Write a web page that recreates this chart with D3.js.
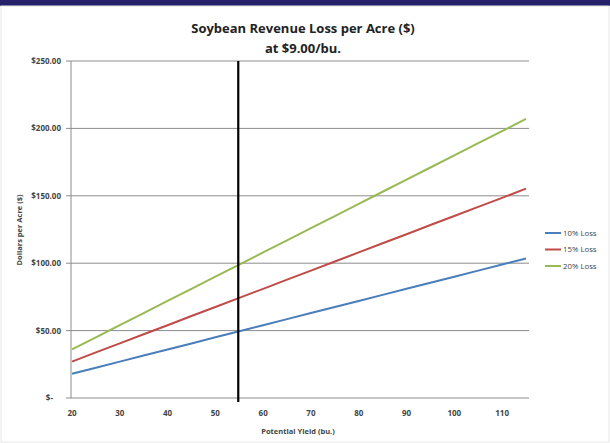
<!DOCTYPE html>
<html>
<head>
<meta charset="utf-8">
<script src="https://cdn.jsdelivr.net/npm/d3@7"></script>
<style>
  body { margin: 0; background: #fff; }
  svg { display: block; }
  text { font-family: "Open Sans", "Liberation Sans", sans-serif; }
</style>
</head>
<body>
<div id="chart"></div>
<script>
// 数据：产量与损失
const yields = [20, 25, 30, 35, 40, 45, 50, 55, 60, 65, 70, 75, 80, 85, 90, 95, 100, 105, 110, 115];
const loss10 = [18, 22.5, 27, 31.5, 36, 40.5, 45, 49.5, 54, 58.5, 63, 67.5, 72, 76.5, 81, 85.5, 90, 94.5, 99, 103.5];
const loss15 = [27, 33.8, 40.5, 47.3, 54, 60.8, 67.5, 74.3, 81, 87.8, 94.5, 101.3, 108, 114.8, 121.5, 128.3, 135, 141.8, 148.5, 155.3];
const loss20 = [36, 45, 54, 63, 72, 81, 90, 99, 108, 117, 126, 135, 144, 153, 162, 171, 180, 189, 198, 207];
const seriesNames = ["10% Loss", "15% Loss", "20% Loss"];
const seriesColors = ["#4a7ebb", "#be4b48", "#98b954"];
const xTicks = [20, 30, 40, 50, 60, 70, 80, 90, 100, 110];
const yTicks = [0, 50, 100, 150, 200, 250];
const markerYield = 55;

const width = 610, height = 443;
const svg = d3.select("#chart").append("svg")
  .attr("width", width)
  .attr("height", height);

// 顶部深色条
svg.append("rect").attr("x", 0).attr("y", 0).attr("width", width).attr("height", 6).attr("fill", "#24206a");
svg.append("rect").attr("x", 1).attr("y", 6).attr("width", width - 2).attr("height", height - 7)
  .attr("fill", "none").attr("stroke", "#e6e6e6");

// 比例尺
const x = d3.scaleLinear().domain([20, 115]).range([72, 526]);
const y = d3.scaleLinear().domain([0, 250]).range([398, 61]);
const plotLeft = 71, plotRight = 529;

// 网格线
svg.append("g").selectAll("line")
  .data(yTicks)
  .enter().append("line")
  .attr("x1", plotLeft - 5).attr("x2", plotRight)
  .attr("y1", d => y(d)).attr("y2", d => y(d))
  .style("stroke", "#8c8c8c")
  .style("stroke-width", 1);

// y 轴
svg.append("line")
  .attr("x1", plotLeft).attr("x2", plotLeft)
  .attr("y1", y(250)).attr("y2", y(0))
  .style("stroke", "#8c8c8c");

const fmt = d => d === 0 ? "$-" : "$" + d3.format(".2f")(d);
svg.append("g").selectAll("text")
  .data(yTicks)
  .enter().append("text")
  .attr("x", d => d === 0 ? 53 : 61)
  .attr("y", d => y(d) + 3)
  .attr("text-anchor", "end")
  .style("font-size", "8px")
  .style("font-weight", "bold")
  .style("fill", "#444")
  .text(fmt);

// x 轴刻度
svg.append("g").selectAll("text")
  .data(xTicks)
  .enter().append("text")
  .attr("x", d => x(d))
  .attr("y", 416)
  .attr("text-anchor", "middle")
  .style("font-size", "8px")
  .style("font-weight", "bold")
  .style("fill", "#444")
  .text(d => d);

// 折线
const seriesData = [loss10, loss15, loss20];
const line = d3.line()
  .x((d, i) => x(yields[i]))
  .y(d => y(d));
svg.append("g").selectAll("path")
  .data(seriesData)
  .enter().append("path")
  .attr("d", line)
  .style("fill", "none")
  .style("stroke", (d, i) => seriesColors[i])
  .style("stroke-width", 2);

// 竖线（55 蒲式耳）
svg.append("line")
  .attr("x1", x(markerYield) - 1).attr("x2", x(markerYield) - 1)
  .attr("y1", y(250)).attr("y2", y(0) + 4)
  .style("stroke", "#000")
  .style("stroke-width", 2.2);

// 标题
svg.append("text")
  .attr("x", 303).attr("y", 33)
  .attr("text-anchor", "middle")
  .style("font-size", "13px")
  .style("font-weight", "bold")
  .style("fill", "#222")
  .text("Soybean Revenue Loss per Acre ($)");
svg.append("text")
  .attr("x", 303).attr("y", 53)
  .attr("text-anchor", "middle")
  .style("font-size", "13px")
  .style("font-weight", "bold")
  .style("fill", "#222")
  .text("at $9.00/bu.");

// 轴标题
svg.append("text")
  .attr("x", 298).attr("y", 434)
  .attr("text-anchor", "middle")
  .style("font-size", "7.5px")
  .style("font-weight", "bold")
  .style("fill", "#444")
  .text("Potential Yield (bu.)");
svg.append("text")
  .attr("transform", "translate(22,230) rotate(-90)")
  .attr("text-anchor", "middle")
  .style("font-size", "7.5px")
  .style("font-weight", "bold")
  .style("fill", "#444")
  .text("Dollars per Acre ($)");

// 图例
const legend = svg.append("g").selectAll("g")
  .data(seriesNames)
  .enter().append("g")
  .attr("transform", (d, i) => `translate(545,${233 + i * 16.5})`);
legend.append("line")
  .attr("x1", 0).attr("x2", 16)
  .style("stroke", (d, i) => seriesColors[i])
  .style("stroke-width", 2);
legend.append("text")
  .attr("x", 18).attr("y", 2.8)
  .style("font-size", "7.8px")
  .style("fill", "#444")
  .text(d => d);
</script>
</body>
</html>
